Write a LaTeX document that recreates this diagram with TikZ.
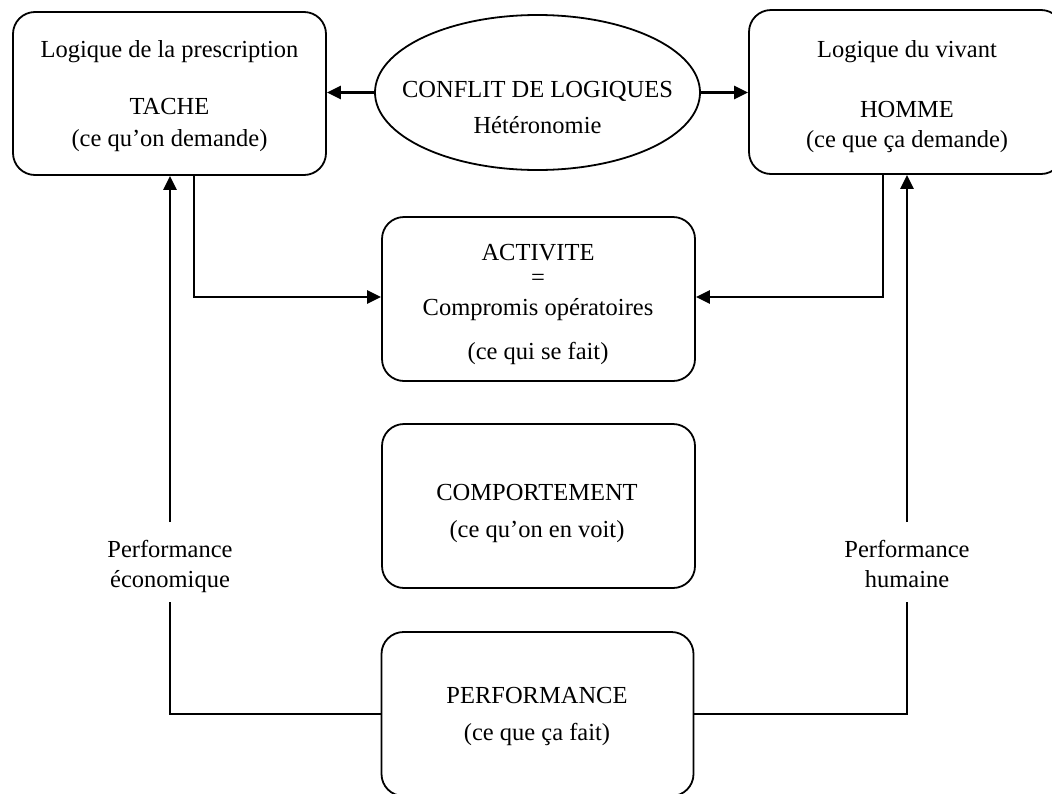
\documentclass[tikz,border=0pt]{standalone}
\usepackage{fontspec}
\setmainfont{Liberation Serif}
\usetikzlibrary{shapes.geometric,arrows.meta}
\begin{document}
\begin{tikzpicture}[x=1pt,y=-1pt,
  box/.style={draw, line width=1.8pt, rounded corners=22pt, inner sep=0pt},
  txt/.style={anchor=base, inner sep=0pt, font=\fontsize{24.5}{31}\selectfont},
  conn/.style={line width=2.5pt},
  arr/.style={conn, -{Triangle[length=14pt,width=13pt]}}]
\useasboundingbox (0,0) rectangle (1052,793);
\fill[white] (0,0) rectangle (1052,793);
\clip (0,0) rectangle (1052,793);
% boxes
\node[box, minimum width=313pt, minimum height=163pt] (tache) at (169.5,93.5) {};
\node[box, minimum width=314pt, minimum height=164pt] (homme) at (906,92) {};
\node[draw, ellipse, line width=1.8pt, minimum width=325pt, minimum height=155pt, inner sep=0pt] (conflit) at (537.5,92.5) {};
\node[box, minimum width=313pt, minimum height=164pt] (activite) at (538.5,299) {};
\node[box, minimum width=313pt, minimum height=164pt] (comport) at (538.5,506) {};
\node[box, minimum width=312pt, minimum height=164pt] (perf) at (537.5,714) {};
% texts
\node[txt] (t1) at (169.5,57) {Logique de la prescription};
\node[txt] (t2) at (169.5,114) {TACHE};
\node[txt] (t3) at (169.5,146) {(ce qu’on demande)};
\node[txt] (h1) at (907,57) {Logique du vivant};
\node[txt] (h2) at (907,117) {HOMME};
\node[txt] (h3) at (907,147) {(ce que ça demande)};
\node[txt] (c1) at (537.5,97) {CONFLIT DE LOGIQUES};
\node[txt] (c2) at (537.5,133) {Hétéronomie};
\node[txt] (a1t) at (538,260) {ACTIVITE};
\node[txt] (a2t) at (538,285) {=};
\node[txt] (a3t) at (538,315) {Compromis opératoires};
\node[txt] (a4t) at (538,359) {(ce qui se fait)};
\node[txt] (k1) at (537,500) {COMPORTEMENT};
\node[txt] (k2) at (537,537) {(ce qu’on en voit)};
\node[txt] (p1) at (537,703) {PERFORMANCE};
\node[txt] (p2) at (537,740) {(ce que ça fait)};
\node[txt] (l1) at (170,557) {Performance};
\node[txt] (l2) at (170,587) {économique};
\node[txt] (r1) at (907,557) {Performance};
\node[txt] (r2) at (907,587) {humaine};
% connectors
\draw[arr] (conflit.west) -- (conflit.west -| tache.east);
\draw[arr] (conflit.east) -- (conflit.east -| homme.west);
\coordinate (a1) at (194,297);
\coordinate (a2) at (883,297);
\draw[arr] (a1 |- tache.south) -- (a1) -- (a1 -| activite.west);
\draw[arr] (a2 |- homme.south) -- (a2) -- (a2 -| activite.east);
\coordinate (sL) at (170,522);
\coordinate (eL) at (170,602);
\coordinate (sR) at (907,522);
\coordinate (eR) at (907,602);
\draw[conn] (perf.west) -| (eL);
\draw[arr] (sL) -- (sL |- tache.south);
\draw[conn] (perf.east) -| (eR);
\draw[arr] (sR) -- (sR |- homme.south);
\end{tikzpicture}
\end{document}
